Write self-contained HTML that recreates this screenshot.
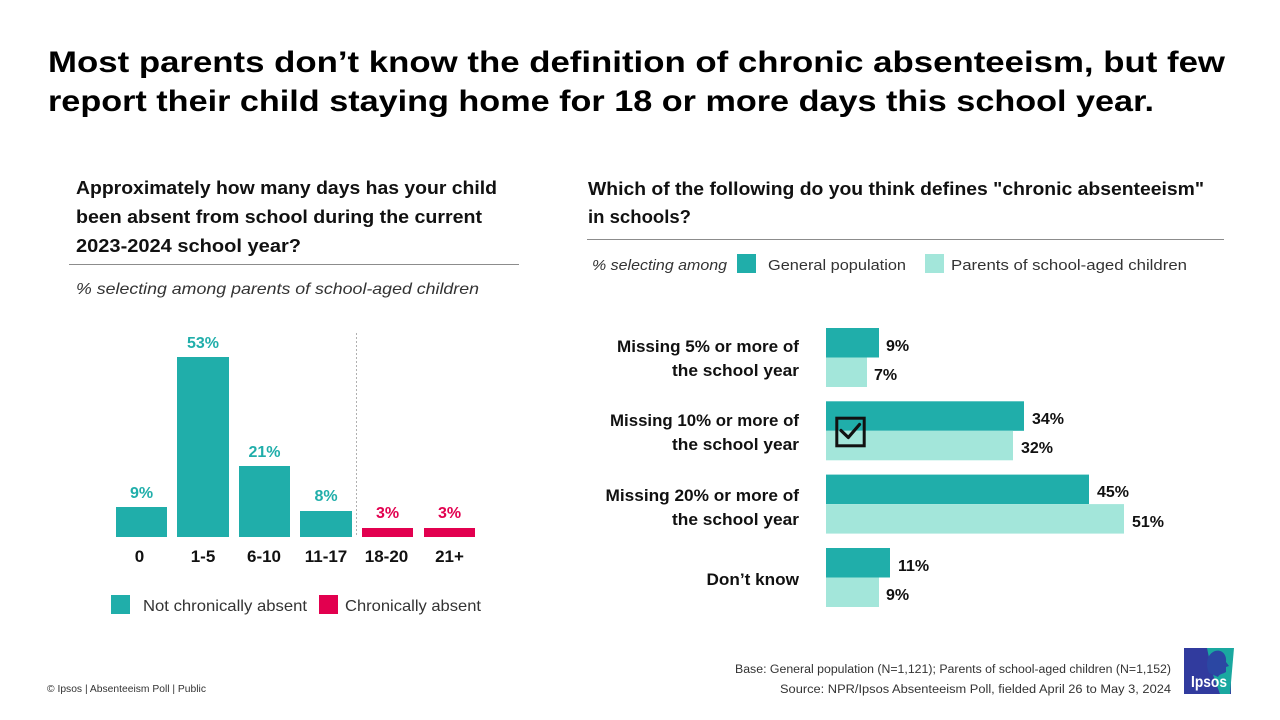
<!DOCTYPE html>
<html>
<head>
<meta charset="utf-8">
<style>
  html, body { margin:0; padding:0; background:#ffffff; }
  body { width:1280px; height:720px; overflow:hidden; }
  svg { display:block; }
  text { font-family: "Liberation Sans", "DejaVu Sans", sans-serif; }
  .b { font-weight:bold; }
</style>
</head>
<body>
<svg width="1280" height="720" viewBox="0 0 1280 720" xmlns="http://www.w3.org/2000/svg">
  <rect x="0" y="0" width="1280" height="720" fill="#ffffff"/>

  <!-- Main title -->
  <text class="b" x="48" y="72" font-size="29.5" fill="#000" textLength="1177" lengthAdjust="spacingAndGlyphs">Most parents don’t know the definition of chronic absenteeism, but few</text>
  <text class="b" x="48" y="111" font-size="29.5" fill="#000" textLength="1106" lengthAdjust="spacingAndGlyphs">report their child staying home for 18 or more days this school year.</text>

  <!-- Left subtitle -->
  <text class="b" x="76" y="194" font-size="18" fill="#111" textLength="421" lengthAdjust="spacingAndGlyphs">Approximately how many days has your child</text>
  <text class="b" x="76" y="223" font-size="18" fill="#111" textLength="406" lengthAdjust="spacingAndGlyphs">been absent from school during the current</text>
  <text class="b" x="76" y="252" font-size="18" fill="#111" textLength="225" lengthAdjust="spacingAndGlyphs">2023-2024 school year?</text>
  <line x1="69" y1="264.5" x2="519" y2="264.5" stroke="#8c8c8c" stroke-width="1"/>
  <text x="76" y="294" font-size="16" font-style="italic" fill="#333" textLength="403" lengthAdjust="spacingAndGlyphs">% selecting among parents of school-aged children</text>

  <!-- Left chart -->
  <line x1="356.5" y1="333" x2="356.5" y2="537" stroke="#b0b0b0" stroke-width="1" stroke-dasharray="2,2"/>
  <rect x="116" y="507" width="51" height="30" fill="#20aeaa"/>
  <rect x="177" y="357" width="52" height="180" fill="#20aeaa"/>
  <rect x="239" y="466" width="51" height="71" fill="#20aeaa"/>
  <rect x="300" y="511" width="52" height="26" fill="#20aeaa"/>
  <rect x="362" y="528" width="51" height="9" fill="#e2004f"/>
  <rect x="424" y="528" width="51" height="9" fill="#e2004f"/>

  <g class="b" font-size="16" text-anchor="middle" font-weight="bold">
    <text x="141.5" y="498" fill="#20aeaa">9%</text>
    <text x="203" y="348" fill="#20aeaa">53%</text>
    <text x="264.5" y="457" fill="#20aeaa">21%</text>
    <text x="326" y="501" fill="#20aeaa">8%</text>
    <text x="387.5" y="518" fill="#e2004f">3%</text>
    <text x="449.5" y="518" fill="#e2004f">3%</text>
  </g>
  <g font-size="17" text-anchor="middle" font-weight="bold" fill="#111">
    <text x="139.5" y="562">0</text>
    <text x="203" y="562">1-5</text>
    <text x="264" y="562">6-10</text>
    <text x="326" y="562">11-17</text>
    <text x="386.5" y="562">18-20</text>
    <text x="449.5" y="562">21+</text>
  </g>

  <!-- Left legend -->
  <rect x="111" y="595" width="19" height="19" fill="#20aeaa"/>
  <text x="143" y="611" font-size="16" fill="#333" textLength="164" lengthAdjust="spacingAndGlyphs">Not chronically absent</text>
  <rect x="319" y="595" width="19" height="19" fill="#e2004f"/>
  <text x="345" y="611" font-size="16" fill="#333" textLength="136" lengthAdjust="spacingAndGlyphs">Chronically absent</text>

  <!-- Right subtitle -->
  <text class="b" x="588" y="195" font-size="18" fill="#111" textLength="616" lengthAdjust="spacingAndGlyphs">Which of the following do you think defines "chronic absenteeism"</text>
  <text class="b" x="588" y="223" font-size="18" fill="#111" textLength="103" lengthAdjust="spacingAndGlyphs">in schools?</text>
  <line x1="587" y1="239.5" x2="1224" y2="239.5" stroke="#8c8c8c" stroke-width="1"/>

  <!-- Right legend -->
  <text x="592" y="270" font-size="15" font-style="italic" fill="#333" textLength="135" lengthAdjust="spacingAndGlyphs">% selecting among</text>
  <rect x="737" y="254" width="19" height="19" fill="#20aeaa"/>
  <text x="768" y="270" font-size="15" fill="#333" textLength="138" lengthAdjust="spacingAndGlyphs">General population</text>
  <rect x="925" y="254" width="19" height="19" fill="#a3e6da"/>
  <text x="951" y="270" font-size="15" fill="#333" textLength="236" lengthAdjust="spacingAndGlyphs">Parents of school-aged children</text>

  <!-- Right chart bars -->
  <rect x="826" y="328" width="53" height="29.5" fill="#20aeaa"/>
  <rect x="826" y="357.5" width="41" height="29.5" fill="#a3e6da"/>
  <rect x="826" y="401.3" width="198" height="29.5" fill="#20aeaa"/>
  <rect x="826" y="430.8" width="187" height="29.5" fill="#a3e6da"/>
  <rect x="826" y="474.6" width="263" height="29.5" fill="#20aeaa"/>
  <rect x="826" y="504.1" width="298" height="29.5" fill="#a3e6da"/>
  <rect x="826" y="548" width="64" height="29.5" fill="#20aeaa"/>
  <rect x="826" y="577.5" width="53" height="29.5" fill="#a3e6da"/>

  <!-- checkbox -->
  <rect x="836.8" y="418.2" width="27.4" height="27.6" fill="none" stroke="#111" stroke-width="3"/>
  <polyline points="841,430.5 848.3,437.5 859.5,424.5" fill="none" stroke="#111" stroke-width="3.2" stroke-linecap="round" stroke-linejoin="round"/>

  <g font-size="16" font-weight="bold" fill="#111">
    <text x="886" y="351">9%</text>
    <text x="874" y="380">7%</text>
    <text x="1032" y="424">34%</text>
    <text x="1021" y="453">32%</text>
    <text x="1097" y="497">45%</text>
    <text x="1132" y="527">51%</text>
    <text x="898" y="571">11%</text>
    <text x="886" y="600">9%</text>
  </g>

  <!-- Right category labels -->
  <g font-size="17" font-weight="bold" fill="#111">
    <text x="617" y="352" textLength="182" lengthAdjust="spacingAndGlyphs">Missing 5% or more of</text>
    <text x="672" y="376" textLength="127" lengthAdjust="spacingAndGlyphs">the school year</text>
    <text x="610" y="426" textLength="189" lengthAdjust="spacingAndGlyphs">Missing 10% or more of</text>
    <text x="672" y="450" textLength="127" lengthAdjust="spacingAndGlyphs">the school year</text>
    <text x="605.5" y="501" textLength="193.5" lengthAdjust="spacingAndGlyphs">Missing 20% or more of</text>
    <text x="672" y="525" textLength="127" lengthAdjust="spacingAndGlyphs">the school year</text>
    <text x="706.5" y="585" textLength="92.5" lengthAdjust="spacingAndGlyphs">Don’t know</text>
  </g>

  <!-- Footer -->
  <text x="735" y="673" font-size="11.5" fill="#333" textLength="436" lengthAdjust="spacingAndGlyphs">Base: General population (N=1,121); Parents of school-aged children (N=1,152)</text>
  <text x="780" y="693" font-size="11.5" fill="#333" textLength="391" lengthAdjust="spacingAndGlyphs">Source:  NPR/Ipsos Absenteeism Poll, fielded April 26 to May 3, 2024</text>
  <text x="47" y="692" font-size="10.5" fill="#333" textLength="159" lengthAdjust="spacingAndGlyphs">© Ipsos | Absenteeism Poll | Public</text>

  <!-- Ipsos logo -->
  <rect x="1184" y="648" width="47" height="46" fill="#313b9e"/>
  <polygon points="1207,648 1234,648 1230,694 1220,694 1212,672" fill="#1aa8a0"/>
  <path d="M1209,673 C1205,664 1207,654 1215,651 C1222,649 1227,655 1226,662 L1229,666 L1226,667 L1226,672 C1223,674 1219,674 1218,677 Z" fill="#2b47a3"/>
  <text x="1191" y="687" font-size="16" font-weight="bold" fill="#ffffff" textLength="36" lengthAdjust="spacingAndGlyphs">Ipsos</text>
</svg>
</body>
</html>
